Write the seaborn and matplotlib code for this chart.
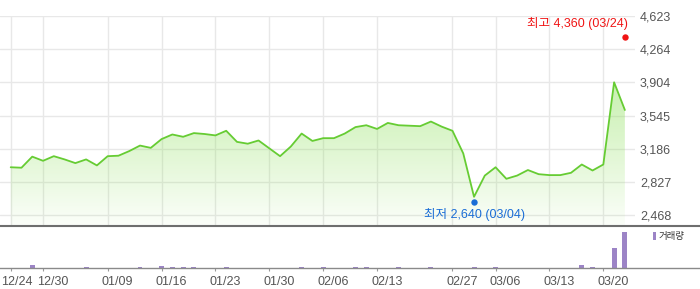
import numpy as np
import pandas as pd
import matplotlib
matplotlib.use('Agg')
import matplotlib.pyplot as plt
import matplotlib.transforms as mtransforms
from matplotlib.patches import Patch
from matplotlib.colors import LinearSegmentedColormap
import seaborn as sns

# ---------------- data ----------------
dates = ['12/24', '12/26', '12/27', '12/30', '01/02', '01/03', '01/06', '01/07', '01/08', '01/09',
         '01/10', '01/13', '01/14', '01/15', '01/16', '01/17', '01/20', '01/21', '01/22', '01/23',
         '01/24', '01/27', '01/28', '01/29', '01/30', '01/31', '02/03', '02/04', '02/05', '02/06',
         '02/07', '02/10', '02/11', '02/12', '02/13', '02/14', '02/17', '02/18', '02/19', '02/25',
         '02/26', '02/27', '02/28', '03/04', '03/05', '03/06', '03/07', '03/10', '03/11', '03/12',
         '03/13', '03/14', '03/17', '03/18', '03/19', '03/20', '03/21', '03/24']
prices = [2985, 2980, 3100, 3055, 3105, 3070, 3030, 3070, 3005, 3105,
          3110, 3160, 3220, 3195, 3290, 3340, 3315, 3355, 3345, 3330,
          3380, 3260, 3240, 3275, 3190, 3105, 3210, 3350, 3270, 3300,
          3300, 3350, 3420, 3440, 3400, 3465, 3440, 3435, 3430, 3480,
          3425, 3380, 3135, 2665, 2895, 2985, 2860, 2895, 2955, 2910,
          2900, 2900, 2925, 3015, 2950, 3015, 3905, 3605]
volumes = [8000, 6000, 165000, 7000, 6000, 5000, 7000, 65000, 6000, 5000,
           6000, 5000, 65000, 6000, 130000, 65000, 65000, 65000, 6000, 5000,
           65000, 6000, 5000, 6000, 5000, 6000, 5000, 65000, 6000, 65000,
           6000, 5000, 65000, 65000, 6000, 5000, 65000, 6000, 5000, 65000,
           6000, 5000, 8000, 65000, 6000, 65000, 5000, 6000, 5000, 6000,
           5000, 6000, 8000, 180000, 65000, 9000, 1020000, 1800000]
tick_dates = ['12/24', '12/30', '01/09', '01/16', '01/23', '01/30', '02/06', '02/13',
              '02/27', '03/06', '03/13', '03/20']
price_ticks = [2468, 2827, 3186, 3545, 3904, 4264, 4623]
high_value, high_date = 4360, '03/24'
low_value, low_date = 2640, '03/04'

# ---------------- style ----------------
sns.set_theme(style='white')
plt.rcParams['font.family'] = ['Liberation Sans', 'Noto Sans CJK KR']

LINE = '#66cc33'
PURPLE = '#9c84c6'
GRID = '#e8e8e8'
TXT = '#555555'

W, H = 700, 289
fig = plt.figure(figsize=(W / 100, H / 100), dpi=100)
fig.patch.set_facecolor('white')


def px_axes(x0, y0, x1, y1):
    return fig.add_axes([x0 / W, 1 - y1 / H, (x1 - x0) / W, (y1 - y0) / H])


X0, STEP = 10.7, 10.775          # pixel of first point, pixels per trading day
ax = px_axes(0, 16, 635, 225.5)
axv = px_axes(0, 225.5, 700, 268.3)

df = pd.DataFrame({'i': np.arange(len(dates)), 'date': dates,
                   'price': prices, 'volume': volumes})
tick_idx = [dates.index(d) for d in tick_dates]

# price axis limits (pixel mapping of the gridlines)
pxu = (215 - 16) / (price_ticks[-1] - price_ticks[0])
ybot = price_ticks[0] - (225.5 - 215) / pxu
ytop = price_ticks[-1]
xl = -X0 / STEP
xr = (635 - X0) / STEP

# ---------------- price panel ----------------
poly = ax.fill_between(df['i'], df['price'], ybot, color='none', lw=0)
cmap = LinearSegmentedColormap.from_list(
    'g', [(0.55, 0.88, 0.35, 0.04), (0.55, 0.88, 0.35, 0.48)])
grad = np.linspace(0, 1, 256).reshape(-1, 1)
im = ax.imshow(grad, extent=[xl, xr, ybot, max(prices)], origin='lower',
               cmap=cmap, aspect='auto', zorder=1, interpolation='bilinear')
im.set_clip_path(poly.get_paths()[0], transform=ax.transData)

sns.lineplot(data=df, x='i', y='price', color=LINE, linewidth=1.3, ax=ax, zorder=3)

ax.set_xlim(xl, xr)
ax.set_ylim(ybot, ytop)
ax.set_xticks(tick_idx)
ax.set_yticks(price_ticks)
ax.set_yticklabels([f'{v:,}' for v in price_ticks])
ax.yaxis.tick_right()
ax.tick_params(axis='y', length=0, pad=3.6, labelsize=9, labelcolor=TXT)
ax.tick_params(axis='x', length=0, labelbottom=False)
ax.grid(True, color=GRID, linewidth=1)
ax.set_axisbelow(True)
for s in ax.spines.values():
    s.set_visible(False)
ax.set_xlabel('')
ax.set_ylabel('')
ax.set_facecolor('none')

# high / low markers
hi = dates.index(high_date)
lo = dates.index(low_date)
up = mtransforms.offset_copy(ax.transData, fig=fig, x=0, y=3, units='dots')
dn = mtransforms.offset_copy(ax.transData, fig=fig, x=0, y=-3, units='dots')
ax.plot([hi], [high_value], 'o', color='#f01414', ms=4.6, mec='none',
        transform=up, clip_on=False, zorder=6)
ax.plot([lo], [low_value], 'o', color='#1a6dd6', ms=4.6, mec='none',
        transform=dn, clip_on=False, zorder=6)
ax.annotate(f'최고 {high_value:,} ({high_date})', xy=(hi, high_value),
            xytext=(3, 16.5), textcoords='offset pixels', ha='right', va='center',
            color='#f01414', fontsize=9, annotation_clip=False)
ax.annotate(f'최저 {low_value:,} ({low_date})', xy=(lo, low_value),
            xytext=(0, -15.2), textcoords='offset pixels', ha='center', va='center',
            color='#1a6dd6', fontsize=9, annotation_clip=False)

# ---------------- volume panel ----------------
sns.barplot(data=df, x='i', y='volume', native_scale=True, color=PURPLE,
            saturation=1, width=0.46, errorbar=None, ax=axv, zorder=2,
            linewidth=0, edgecolor='none')
axv.set_xlim(xl, (700 - X0) / STEP)
axv.set_ylim(0, max(volumes) * 1.179)
axv.set_yticks([])
axv.set_xticks(tick_idx)
axv.set_xticklabels(tick_dates)
axv.tick_params(axis='x', bottom=True, length=2.3, width=0.8, color='#999999',
                pad=3, labelsize=9, labelcolor=TXT)
for k, lab in enumerate(axv.get_xticklabels()):
    dx = 6.3 if k == 0 else 10
    lab.set_transform(lab.get_transform() +
                      mtransforms.ScaledTranslation(dx / 100, 0, fig.dpi_scale_trans))
for side in ('left', 'right'):
    axv.spines[side].set_visible(False)
axv.spines['top'].set_color('#6e6e6e')
axv.spines['top'].set_linewidth(1.5)
axv.spines['bottom'].set_color('#8a8a8a')
axv.spines['bottom'].set_linewidth(1)
axv.set_xlabel('')
axv.set_ylabel('')
axv.set_facecolor('none')

axv.legend(handles=[Patch(facecolor=PURPLE, edgecolor='none')], labels=['거래량'],
           loc='upper left', bbox_to_anchor=(652.7 / W, 1 - 232 / H),
           bbox_transform=fig.transFigure, frameon=False, fontsize=6.8,
           handlelength=0.37, handleheight=0.93, handletextpad=0.25,
           borderpad=0, borderaxespad=0, labelcolor='#333333')

fig.savefig('out.png', dpi=100, facecolor='white')
